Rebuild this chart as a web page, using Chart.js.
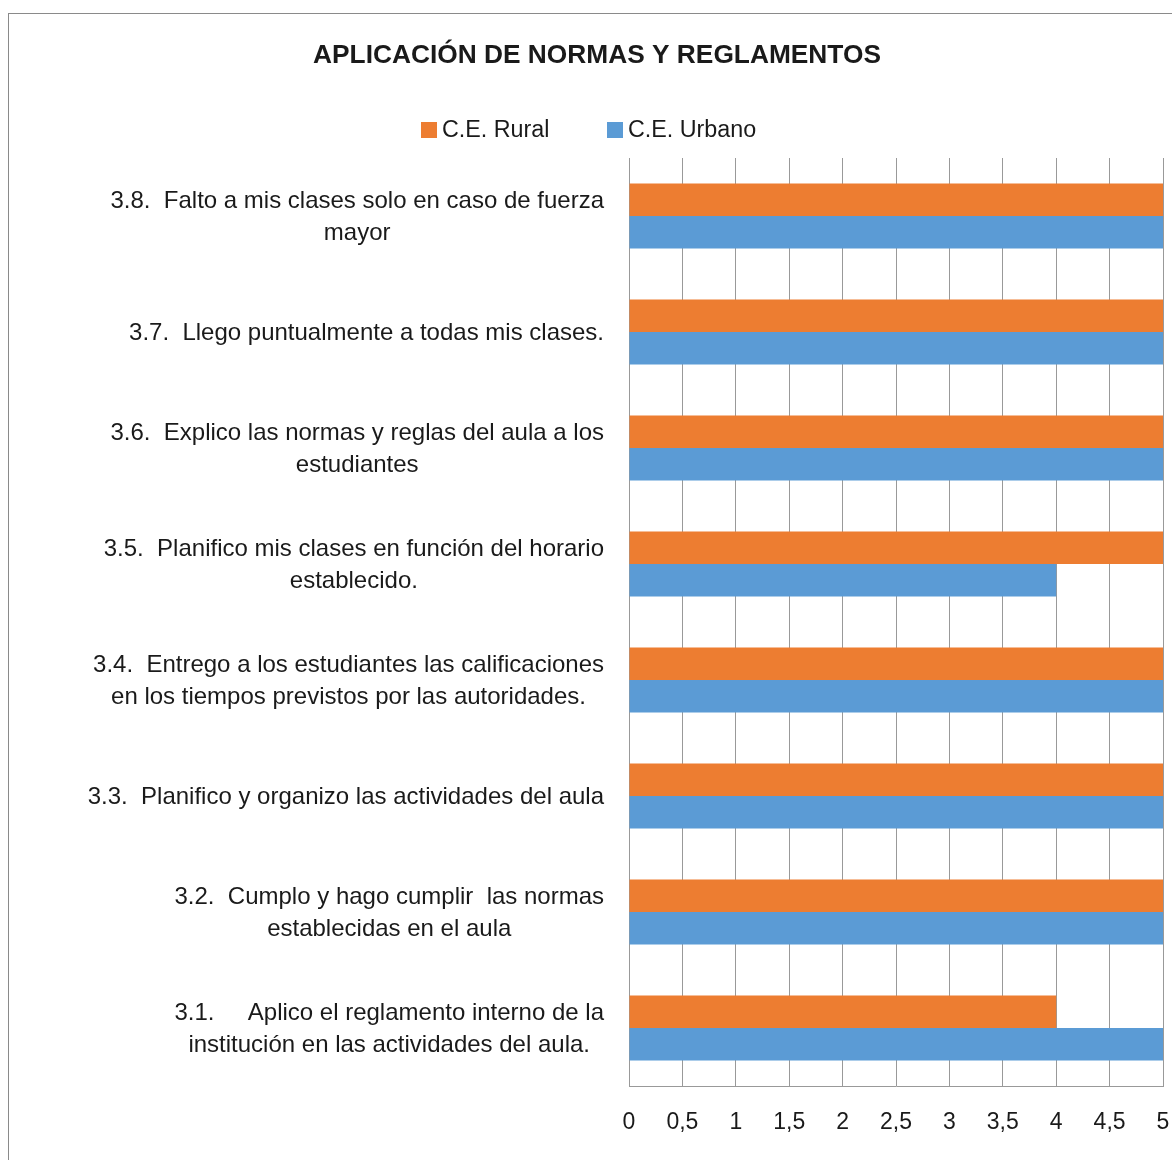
<!DOCTYPE html>
<html>
<head>
<meta charset="utf-8">
<script src="https://cdn.jsdelivr.net/npm/chart.js@4"></script>
<style>
  html, body { margin: 0; padding: 0; background: #fff; }
  #wrap { width: 1172px; height: 1160px; }
</style>
</head>
<body>
<div id="wrap"><canvas id="chart" width="1172" height="1160"></canvas></div>
<script>
const chartTitle = 'APLICACIÓN DE NORMAS Y REGLAMENTOS'

// categories, top to bottom (each entry is the lines of the label)
const categories = [
    ['3.8.  Falto a mis clases solo en caso de fuerza', 'mayor'],
    ['3.7.  Llego puntualmente a todas mis clases.'],
    ['3.6.  Explico las normas y reglas del aula a los', 'estudiantes'],
    ['3.5.  Planifico mis clases en función del horario', 'establecido.'],
    ['3.4.  Entrego a los estudiantes las calificaciones', 'en los tiempos previstos por las autoridades.'],
    ['3.3.  Planifico y organizo las actividades del aula'],
    ['3.2.  Cumplo y hago cumplir  las normas', 'establecidas en el aula'],
    ['3.1.     Aplico el reglamento interno de la', 'institución en las actividades del aula.']
]

const ruralLabel = 'C.E. Rural'
const urbanoLabel = 'C.E. Urbano'
const ruralValues = [5, 5, 5, 5, 5, 5, 5, 4]
const urbanoValues = [5, 5, 5, 4, 5, 5, 5, 5]

const xMin = 0
const xMax = 5
const xStep = 0.5

const FONT = '"Liberation Sans", Arial, sans-serif'
const TEXT = '#1a1a1a'
const GRID = '#999999'

// frame, title, legend and the multi-line category labels
const decorations = {
    id: 'decorations',
    beforeDraw(chart) {
        const ctx = chart.ctx
        ctx.save()
        ctx.fillStyle = '#fff'
        ctx.fillRect(0, 0, chart.width, chart.height)
        ctx.strokeStyle = '#8a8a8a'
        ctx.lineWidth = 1
        ctx.strokeRect(8.5, 13.5, 1300, 1300)
        ctx.restore()
    },
    afterDraw(chart) {
        const ctx = chart.ctx
        ctx.save()
        ctx.fillStyle = TEXT
        ctx.textBaseline = 'middle'

        ctx.font = 'bold 26.3px ' + FONT
        ctx.textAlign = 'center'
        ctx.fillText(chartTitle, 597, 56)

        // legend
        ctx.font = '23.3px ' + FONT
        ctx.textAlign = 'left'
        const legendX = [421, 607]
        chart.data.datasets.forEach((ds, i) => {
            ctx.fillStyle = ds.backgroundColor
            ctx.fillRect(legendX[i], 122, 16, 16)
            ctx.fillStyle = TEXT
            ctx.fillText(ds.label, legendX[i] + 21, 131)
        })

        // category labels: each block centred on itself, right edge near the axis
        ctx.font = '24px ' + FONT
        const y = chart.scales.y
        const right = y.right - 25
        const lineH = 32
        categories.forEach((lines, i) => {
            const cy = y.getPixelForTick(i)
            const widest = Math.max(...lines.map(l => ctx.measureText(l).width))
            const cx = right - widest / 2
            ctx.textAlign = 'center'
            lines.forEach((l, j) => {
                ctx.fillText(l, cx, cy + (j - (lines.length - 1) / 2) * lineH + 1)
            })
        })
        ctx.restore()
    }
}

new Chart(document.getElementById('chart').getContext('2d'), {
    type: 'bar',
    data: {
        labels: categories,
        datasets: [
            { label: ruralLabel, data: ruralValues, backgroundColor: '#ED7D31' },
            { label: urbanoLabel, data: urbanoValues, backgroundColor: '#5B9BD5' }
        ]
    },
    options: {
        indexAxis: 'y',
        responsive: false,
        animation: false,
        layout: { padding: { left: 22, top: 158, right: 9, bottom: 0 } },
        datasets: { bar: { categoryPercentage: 0.56, barPercentage: 1.0 } },
        plugins: {
            legend: { display: false },
            title: { display: false },
            tooltip: { enabled: false }
        },
        scales: {
            x: {
                min: xMin,
                max: xMax,
                ticks: {
                    stepSize: xStep,
                    padding: 23,
                    color: TEXT,
                    font: { family: FONT, size: 23 },
                    callback: v => String(v).replace('.', ',')
                },
                grid: { color: GRID, drawTicks: false },
                border: { color: GRID },
                afterFit: s => { s.height = 74; s.paddingLeft = 0; s.paddingRight = 0 }
            },
            y: {
                ticks: { display: false },
                grid: { display: false, drawTicks: false },
                border: { display: true, color: GRID },
                afterFit: s => { s.width = 607 }
            }
        }
    },
    plugins: [decorations]
})
</script>
</body>
</html>
